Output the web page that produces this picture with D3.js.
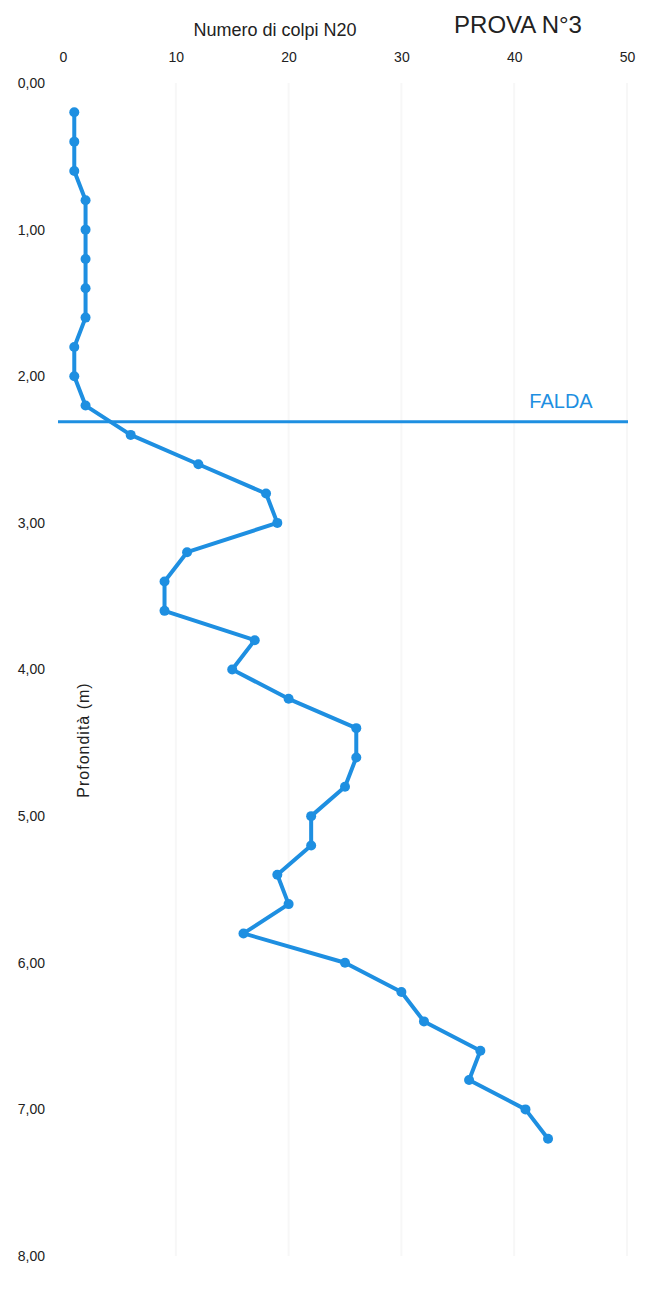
<!DOCTYPE html>
<html>
<head>
<meta charset="utf-8">
<script src="https://cdn.jsdelivr.net/npm/d3@7"></script>
<style>
  body { margin: 0; background: #fff; }
  text { font-family: "Liberation Sans", Arial, sans-serif; fill: #222; }
</style>
</head>
<body>
<div id="chart"></div>
<script>
// profondità (m) e numero di colpi N20
const depths = [0.2, 0.4, 0.6, 0.8, 1.0, 1.2, 1.4, 1.6, 1.8, 2.0, 2.2, 2.4, 2.6, 2.8, 3.0, 3.2, 3.4, 3.6,
                3.8, 4.0, 4.2, 4.4, 4.6, 4.8, 5.0, 5.2, 5.4, 5.6, 5.8, 6.0, 6.2, 6.4, 6.6, 6.8, 7.0, 7.2];
const colpi  = [1, 1, 1, 2, 2, 2, 2, 2, 1, 1, 2, 6, 12, 18, 19, 11, 9, 9,
                17, 15, 20, 26, 26, 25, 22, 22, 19, 20, 16, 25, 30, 32, 37, 36, 41, 43];
const xTicks = [0, 10, 20, 30, 40, 50];
const yTicks = [0, 1, 2, 3, 4, 5, 6, 7, 8];
const falda = 2.31;

const W = 660, H = 1304;
const m = {left: 63, right: 33, top: 83, bottom: 48};
const blue = "#1e8fe1";

const svg = d3.select("#chart").append("svg").attr("width", W).attr("height", H);

const x = d3.scaleLinear().domain([0, 50]).range([m.left, W - m.right]);
const y = d3.scaleLinear().domain([0, 8]).range([m.top, H - m.bottom]);
const fmt = d => d3.format(".2f")(d).replace(".", ",");

// griglia quasi invisibile
svg.append("g").selectAll("line").data(xTicks.slice(1)).join("line")
  .attr("x1", d => x(d)).attr("x2", d => x(d))
  .attr("y1", y(0)).attr("y2", y(8))
  .attr("stroke", "#f7f7f7").attr("stroke-width", 2);

// asse x in alto
const gx = svg.append("g").attr("transform", `translate(0,${m.top - 21})`)
  .call(d3.axisTop(x).tickValues(xTicks).tickSize(0).tickPadding(0));
gx.select(".domain").remove();
gx.selectAll("text").style("font-size", "14px").attr("fill", "#222").attr("dy", 0);

// asse y
const gy = svg.append("g").attr("transform", `translate(${m.left - 18},0)`)
  .call(d3.axisLeft(y).tickValues(yTicks).tickFormat(fmt).tickSize(0).tickPadding(0));
gy.select(".domain").remove();
gy.selectAll("text").style("font-size", "14px").attr("fill", "#222");

// titoli
svg.append("text").attr("x", 275).attr("y", 36).attr("text-anchor", "middle")
  .style("font-size", "18px").text("Numero di colpi N20");
svg.append("text").attr("x", 518).attr("y", 33).attr("text-anchor", "middle")
  .style("font-size", "24px").text("PROVA N°3");
svg.append("text")
  .attr("transform", `translate(89,740) rotate(-90)`)
  .attr("text-anchor", "middle").style("font-size", "16px")
  .style("letter-spacing", "1px")
  .text("Profondità (m)");

// falda
svg.append("line")
  .attr("x1", x(0) - 5).attr("x2", x(50) + 1)
  .attr("y1", y(falda)).attr("y2", y(falda))
  .attr("stroke", blue).attr("stroke-width", 3);
svg.append("text").attr("x", 561).attr("y", y(falda) - 14).attr("text-anchor", "middle")
  .style("font-size", "20px").style("fill", blue).text("FALDA");

// prova penetrometrica
const pts = depths.map((d, i) => ({d, n: colpi[i]}));
svg.append("path").datum(pts)
  .attr("fill", "none").attr("stroke", blue).attr("stroke-width", 4)
  .attr("stroke-linejoin", "round")
  .attr("d", d3.line().x(p => x(p.n)).y(p => y(p.d)));
svg.append("g").selectAll("circle").data(pts).join("circle")
  .attr("cx", p => x(p.n)).attr("cy", p => y(p.d)).attr("r", 5)
  .attr("fill", blue);
</script>
</body>
</html>
